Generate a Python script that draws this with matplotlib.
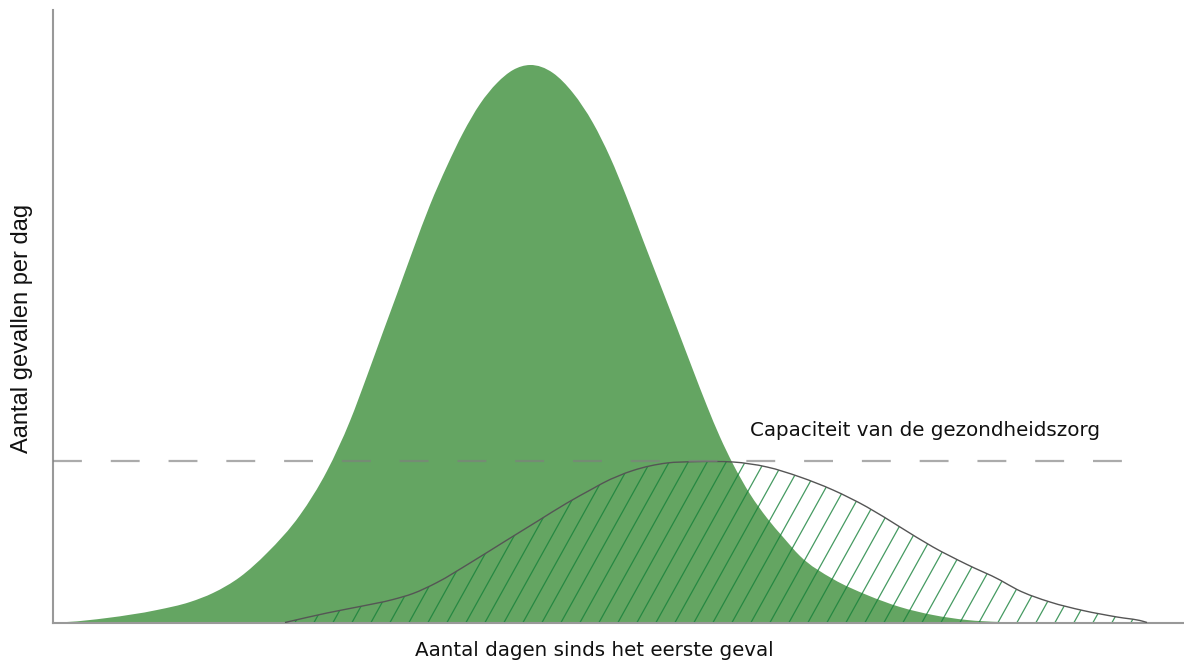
import numpy as np
import matplotlib.pyplot as plt
from matplotlib.path import Path
from matplotlib.patches import PathPatch

# days since the first case (x) and cases per day (y)
peak_days = [0.0, 1.4, 5.4, 10.4, 13.7, 16.0, 18.7, 21.4, 24.7, 27.4, 29.7, 31.4,
             33.0, 34.4, 36.0, 37.7, 39.4, 41.0, 42.7, 44.4, 46.0, 47.7, 50.0,
             52.0, 54.0, 55.7, 57.4, 59.0, 60.7, 62.4, 64.0, 65.4, 66.7, 68.0,
             69.7, 71.4, 73.0, 74.7, 78.0, 81.4, 84.7, 88.0, 91.4, 94.7, 97.0]
peak_cases = [0.0, 0.05, 0.45, 1.25, 2.05, 2.95, 4.55, 6.95, 10.75, 15.15, 20.15,
              24.65, 29.05, 32.85, 37.25, 41.75, 45.65, 48.95, 51.85, 53.95,
              55.25, 55.75, 54.95, 52.95, 49.95, 46.55, 42.45, 38.25, 33.85,
              29.45, 25.25, 21.65, 18.55, 15.85, 12.85, 10.45, 8.55, 6.65, 4.35,
              2.75, 1.55, 0.75, 0.25, 0.05, 0.0]

flat_days = [23.2, 27.4, 30.7, 34.0, 36.0, 38.4, 41.7, 45.0, 48.4, 51.4, 54.0,
             55.0, 58.0, 61.4, 64.0, 66.2, 68.0, 71.4, 74.7, 78.0, 81.4, 84.7,
             88.0, 91.4, 94.7, 96.4, 99.7, 103.0, 106.4, 109.0, 109.4]
flat_cases = [0.0, 0.95, 1.6, 2.3, 2.9, 4.0, 5.95, 8.0, 10.1, 11.95, 13.4,
              13.95, 15.2, 15.95, 16.08, 16.1, 16.05, 15.55, 14.55, 13.25, 11.55,
              9.55, 7.55, 5.8, 4.25, 3.3, 2.05, 1.2, 0.55, 0.12, 0.0]

capacity = 16.15
capacity_span = [0.0, 109.5]


def smooth_verts(xs, ys):
    # cubic hermite segments through the read points (drawing only)
    xs = np.asarray(xs, float)
    ys = np.asarray(ys, float)
    m = np.gradient(ys, xs)
    verts = [(xs[0], ys[0])]
    codes = []
    for i in range(len(xs) - 1):
        h = xs[i + 1] - xs[i]
        verts += [(xs[i] + h / 3, ys[i] + m[i] * h / 3),
                  (xs[i + 1] - h / 3, ys[i + 1] - m[i + 1] * h / 3),
                  (xs[i + 1], ys[i + 1])]
        codes += [Path.CURVE4] * 3
    return verts, codes


def area_path(xs, ys):
    verts, codes = smooth_verts(xs, ys)
    verts = [(xs[0], 0)] + verts + [(xs[-1], 0), (xs[0], 0)]
    codes = [Path.MOVETO, Path.LINETO] + codes + [Path.LINETO, Path.CLOSEPOLY]
    return Path(verts, codes)


def line_path(xs, ys):
    verts, codes = smooth_verts(xs, ys)
    return Path(verts, [Path.MOVETO] + codes)


fig = plt.figure(figsize=(11.84, 6.63), dpi=100)
ax = fig.add_axes([53 / 1184, 40.5 / 663, 1130 / 1184, 612.5 / 663])
ax.set_xlim(0, 113)
ax.set_ylim(0, 61.25)

# big peak without measures
ax.add_patch(PathPatch(area_path(peak_days, peak_cases), facecolor='#64a562',
                       edgecolor='none', zorder=1))

# flattened curve: hatched area with grey outline
clip = PathPatch(area_path(flat_days, flat_cases), facecolor='none',
                 edgecolor='none')
ax.add_patch(clip)
for c in np.arange(-10, 115, 1.9):
    ln, = ax.plot([c, c + 20 / 1.8], [0, 20], color='#17813a', alpha=0.8,
                  lw=0.9, zorder=2)
    ln.set_clip_path(clip)
ax.add_patch(PathPatch(line_path(flat_days, flat_cases), facecolor='none',
                       edgecolor='#555555', lw=1.0, zorder=3))

# capacity line
ax.plot(capacity_span, [capacity, capacity], color='#7f7f7f', alpha=0.65,
        lw=1.6, dashes=(13, 13), zorder=4)
ax.text(69.7, 19.25, 'Capaciteit van de gezondheidszorg', fontsize=14.3,
        family='DejaVu Sans', color='#111111', va='center', ha='left')

for s in ['top', 'right']:
    ax.spines[s].set_visible(False)
for s in ['left', 'bottom']:
    ax.spines[s].set_color('#999999')
    ax.spines[s].set_linewidth(1.5)
ax.set_xticks([])
ax.set_yticks([])

fig.text(594 / 1184, 1 - 650 / 663, 'Aantal dagen sinds het eerste geval',
         fontsize=14.3, family='DejaVu Sans', color='#111111',
         ha='center', va='center')
fig.text(22 / 1184, 1 - 328 / 663, 'Aantal gevallen per dag', rotation=90,
         fontsize=17, family='Liberation Sans', color='#111111',
         ha='center', va='center')

fig.savefig('out.png', dpi=100)
